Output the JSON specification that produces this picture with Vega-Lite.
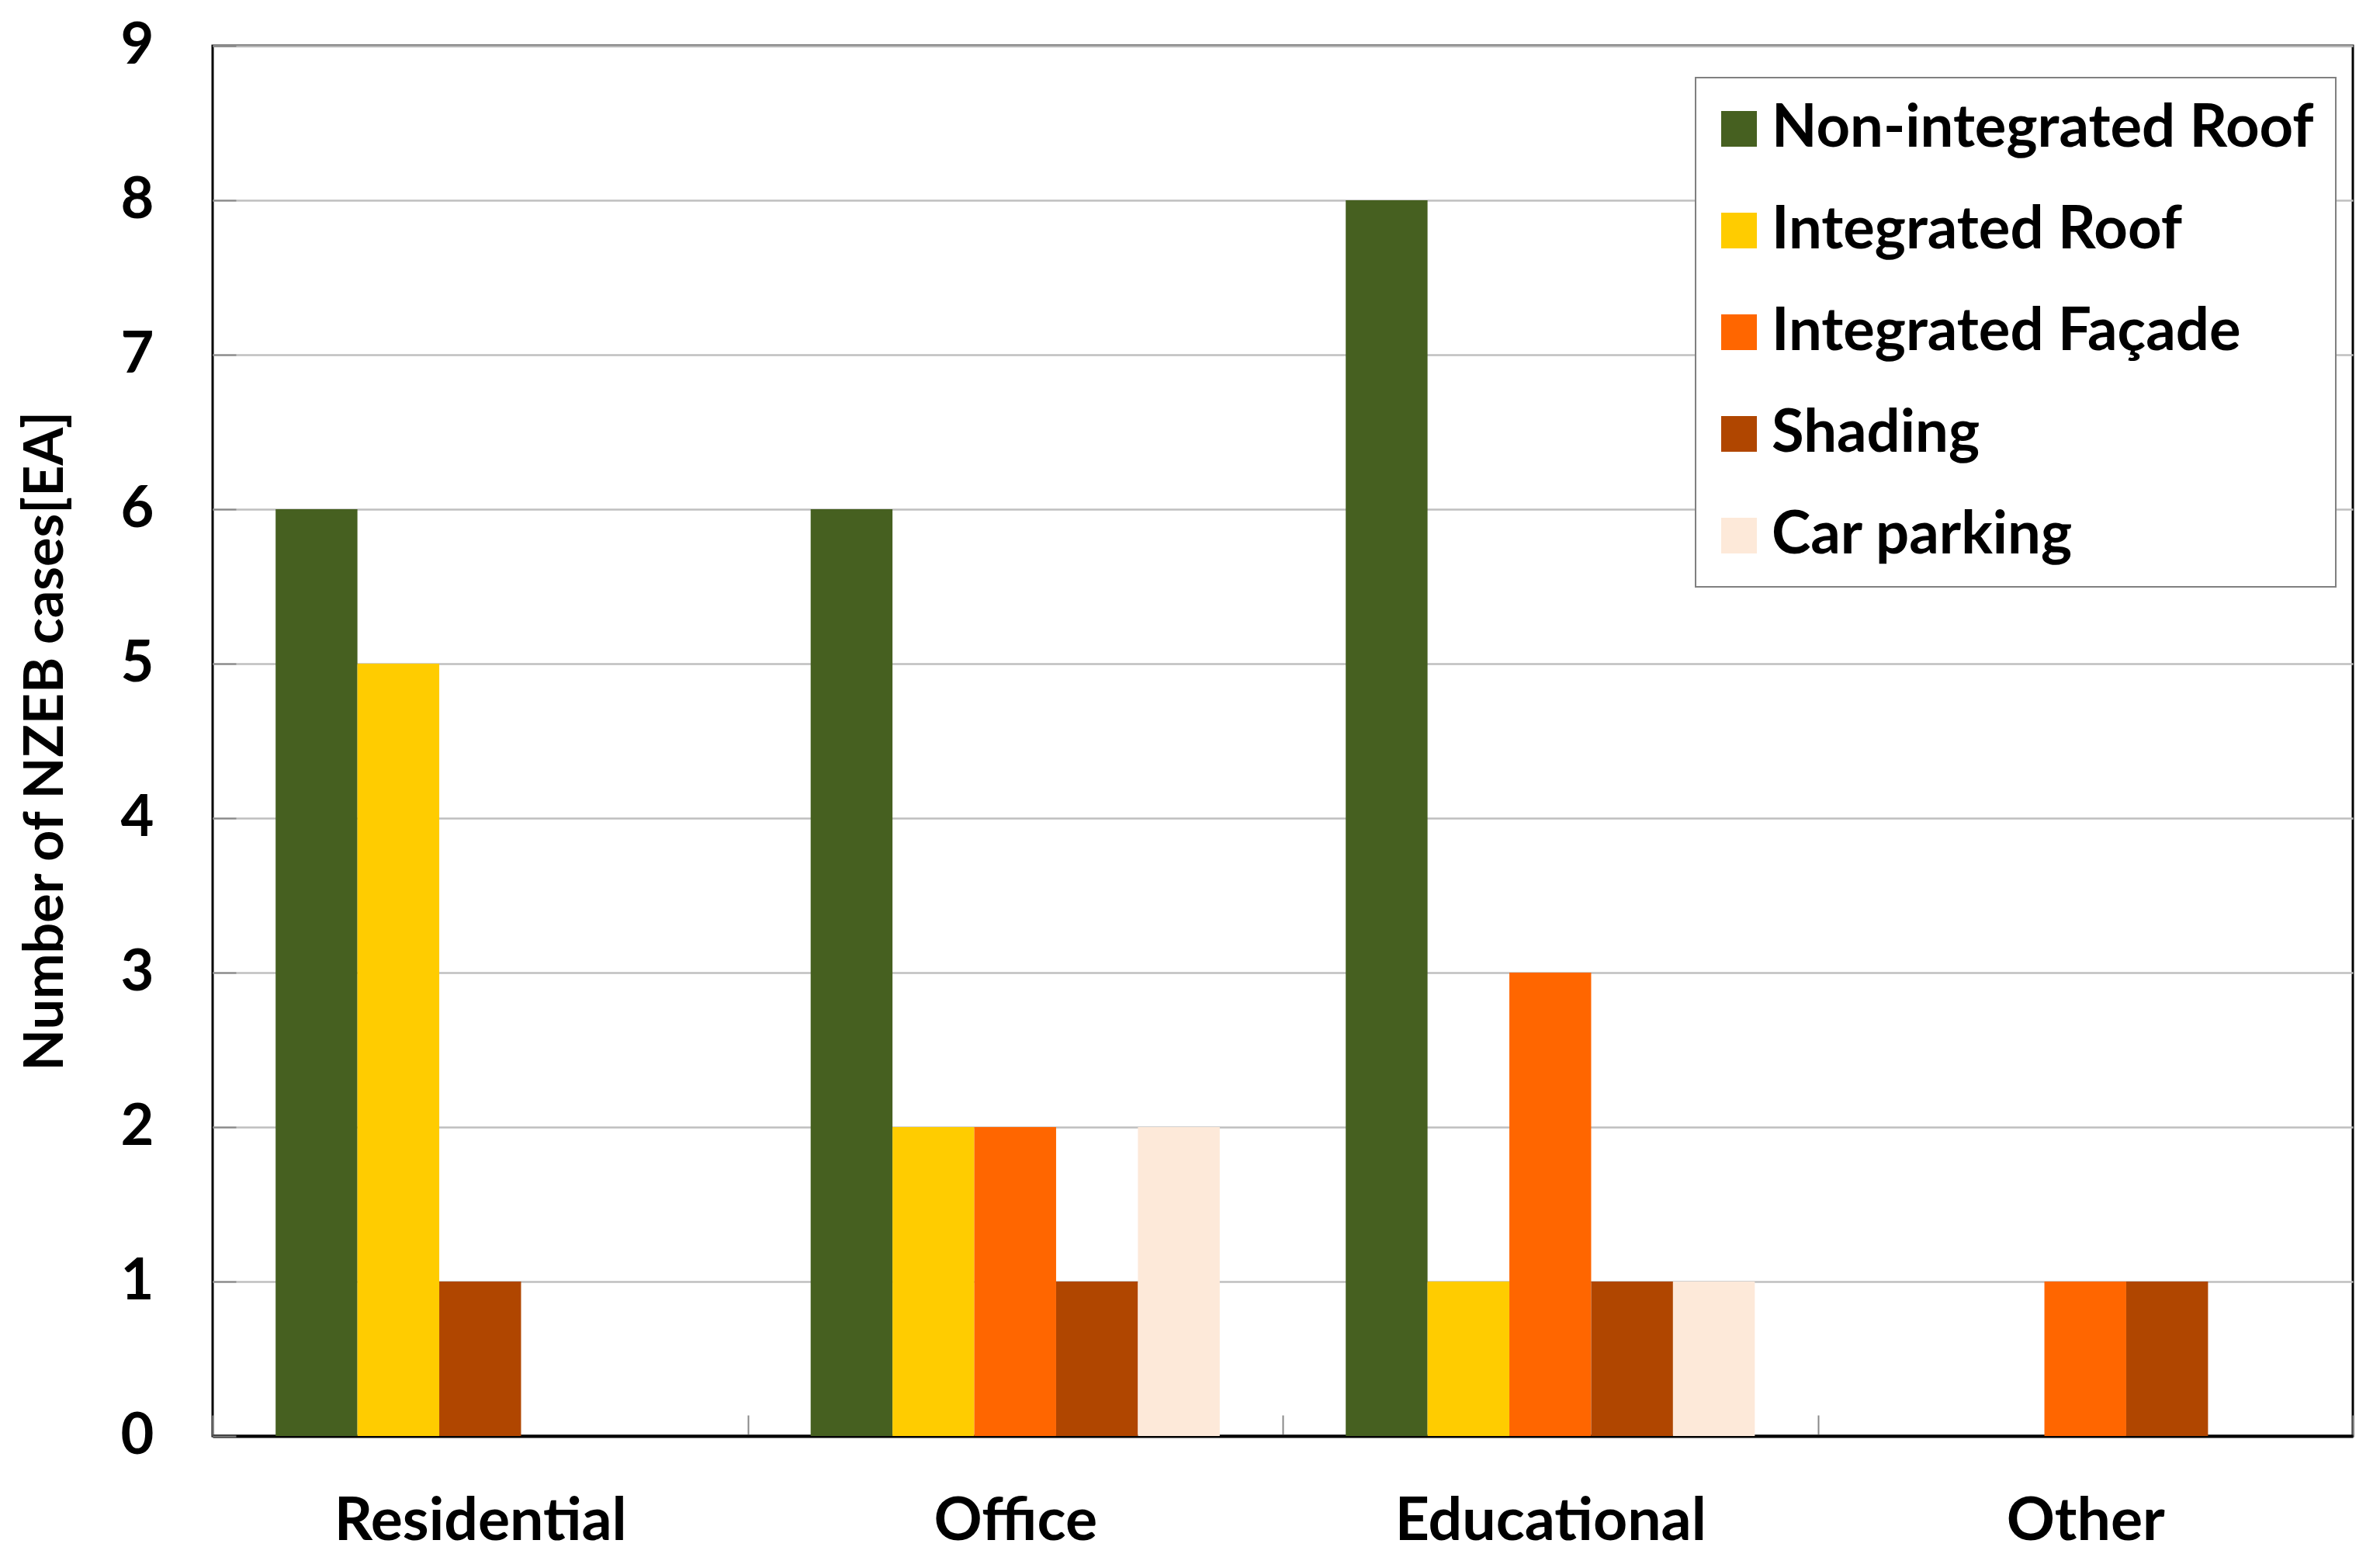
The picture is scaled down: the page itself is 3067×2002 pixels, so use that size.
{
  "$schema": "https://vega.github.io/schema/vega-lite/v6.json",
  "width": 2758,
  "height": 1791,
  "autosize": {"type": "none"},
  "padding": {"left": 274, "top": 59, "right": 35, "bottom": 152},
  "background": "white",
  "config": {
    "font": "Lato",
    "view": {"stroke": "black", "strokeWidth": 3}
  },
  "data": {
    "values": [
      {"building": "Residential", "type": "Non-integrated Roof", "slot": 1, "cases": 6},
      {"building": "Residential", "type": "Integrated Roof", "slot": 2, "cases": 5},
      {"building": "Residential", "type": "Shading", "slot": 3, "cases": 1},
      {"building": "Office", "type": "Non-integrated Roof", "slot": 1, "cases": 6},
      {"building": "Office", "type": "Integrated Roof", "slot": 2, "cases": 2},
      {"building": "Office", "type": "Integrated Façade", "slot": 3, "cases": 2},
      {"building": "Office", "type": "Shading", "slot": 4, "cases": 1},
      {"building": "Office", "type": "Car parking", "slot": 5, "cases": 2},
      {"building": "Educational", "type": "Non-integrated Roof", "slot": 1, "cases": 8},
      {"building": "Educational", "type": "Integrated Roof", "slot": 2, "cases": 1},
      {"building": "Educational", "type": "Integrated Façade", "slot": 3, "cases": 3},
      {"building": "Educational", "type": "Shading", "slot": 4, "cases": 1},
      {"building": "Educational", "type": "Car parking", "slot": 5, "cases": 1},
      {"building": "Other", "type": "Integrated Façade", "slot": 3, "cases": 1},
      {"building": "Other", "type": "Shading", "slot": 4, "cases": 1}
    ]
  },
  "mark": {"type": "bar"},
  "encoding": {
    "x": {
      "field": "building",
      "type": "nominal",
      "sort": ["Residential", "Office", "Educational", "Other"],
      "scale": {"paddingInner": 0, "paddingOuter": 0},
      "axis": {
        "title": null,
        "labelAngle": 0,
        "labelFont": "Lato",
        "labelFontWeight": "bold",
        "labelFontSize": 77,
        "labelColor": "black",
        "labelLimit": 1000,
        "labelPadding": 99,
        "domainColor": "black",
        "domainWidth": 4,
        "tickBand": "extent",
        "tickSize": -27,
        "tickColor": "#888888",
        "tickWidth": 2,
        "grid": false
      }
    },
    "xOffset": {
      "field": "slot",
      "type": "ordinal",
      "scale": {"domain": [1, 2, 3, 4, 5], "paddingInner": 0, "paddingOuter": 0.77}
    },
    "y": {
      "field": "cases",
      "type": "quantitative",
      "scale": {"domain": [0, 9], "nice": false},
      "axis": {
        "values": [0, 1, 2, 3, 4, 5, 6, 7, 8, 9],
        "title": "Number of NZEB cases[EA]",
        "titleFont": "Lato",
        "titleFontWeight": "bold",
        "titleFontSize": 70,
        "titleColor": "black",
        "titlePadding": 60,
        "labelFont": "Lato",
        "labelFontWeight": "bold",
        "labelFontSize": 74,
        "labelColor": "black",
        "labelPadding": 106,
        "domain": false,
        "tickSize": -30,
        "tickColor": "#888888",
        "tickWidth": 2,
        "gridColor": "#BFBFBF",
        "gridWidth": 2.5
      }
    },
    "color": {
      "field": "type",
      "type": "nominal",
      "scale": {
        "domain": ["Non-integrated Roof", "Integrated Roof", "Integrated Façade", "Shading", "Car parking"],
        "range": ["#466020", "#FFCC00", "#FF6600", "#B04600", "#FDE9D9"]
      },
      "legend": {
        "title": null,
        "orient": "none",
        "legendX": 1911,
        "legendY": 41,
        "padding": 28,
        "fillColor": "white",
        "strokeColor": "#808080",
        "symbolType": "square",
        "symbolSize": 2116,
        "symbolStrokeWidth": 0,
        "symbolOffset": -10,
        "labelFont": "Lato",
        "labelFontSize": 76,
        "labelFontWeight": "bold",
        "labelColor": "black",
        "labelOffset": 4,
        "labelLimit": 1200,
        "rowPadding": 55,
        "encode": {"legend": {"update": {"strokeWidth": {"value": 2}}}}
      }
    }
  }
}
